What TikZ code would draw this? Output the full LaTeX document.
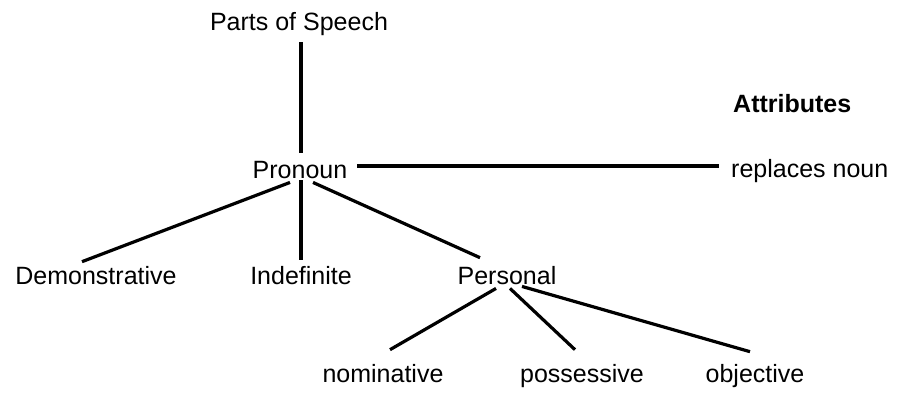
\documentclass[tikz,border=0pt]{standalone}
\usepackage{fontspec}
\setmainfont{Liberation Sans}
\begin{document}
\begin{tikzpicture}[x=1pt,y=-1pt,
  lbl/.style={inner sep=0pt, anchor=base, font=\fontsize{25}{30}\selectfont},
  edge/.style={line width=3.2pt}]
\useasboundingbox (0,0) rectangle (901,403);
\node[lbl] (parts) at (299,31) {Parts of Speech};
\node[lbl] (pron) at (300,179) {Pronoun};
\node[lbl, anchor=base west, font=\fontsize{25}{30}\selectfont\bfseries] (attr) at (733,113) {Attributes};
\node[lbl, anchor=base west] (repl) at (731,178) {replaces noun};
\node[lbl] (demo) at (96,284) {Demonstrative};
\node[lbl] (indef) at (301,284) {Indefinite};
\node[lbl] (pers) at (507,284) {Personal};
\node[lbl] (nom) at (383,382) {nominative};
\node[lbl] (poss) at (582,382) {possessive};
\node[lbl] (obj) at (755,382) {objective};
\draw[edge] ([shift={(2,6)}]parts.south) -- ([shift={(1,-9)}]pron.north);
\draw[edge] ([shift={(10,-13)}]pron.base east) -- ([shift={(-12,-12)}]repl.base west);
\draw[edge] ([shift={(-10,3)}]pron.south) -- ([shift={(-14,-4)}]demo.north);
\draw[edge] ([shift={(1,1)}]pron.south) -- ([shift={(0,-6)}]indef.north);
\draw[edge] ([shift={(13,3)}]pron.south) -- ([shift={(-27,-8)}]pers.north);
\draw[edge] ([shift={(-11,4)}]pers.south) -- ([shift={(7,-14)}]nom.north);
\draw[edge] ([shift={(3,4)}]pers.south) -- ([shift={(-7,-14)}]poss.north);
\draw[edge] ([shift={(15,2)}]pers.south) -- ([shift={(-5,-12)}]obj.north);
\end{tikzpicture}
\end{document}
